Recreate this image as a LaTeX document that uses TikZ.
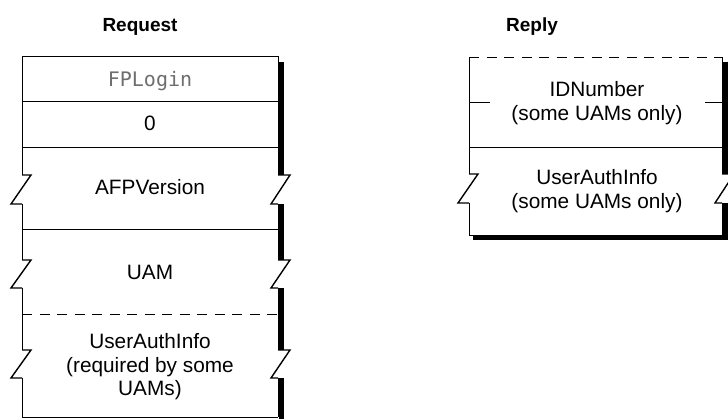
\documentclass[tikz,border=0pt]{standalone}
\usepackage{fontspec}
\setmainfont{Liberation Sans}
\newfontfamily\codefont{DejaVu Sans Mono}
\usetikzlibrary{positioning}
\definecolor{ccode}{HTML}{6E6E6E}
\tikzset{
  every picture/.style={line width=0.9pt},
  field/.style={font=\fontsize{20.8}{23.5}\selectfont, align=center, inner sep=0pt},
  codefield/.style={font=\codefont\fontsize{20}{23.5}\selectfont, text=ccode, inner sep=0pt},
  heading/.style={font=\bfseries\fontsize{19}{23}\selectfont, inner sep=0pt},
  shadow/.style={line width=5.5pt, line cap=butt, miter limit=10},
  jag/.style={line width=1.4pt, line join=miter},
  gapline/.style={dash pattern=on 10pt off 7.5pt},
}

\begin{document}
\begin{tikzpicture}[x=1pt, y=-1pt]
  \fill[white] (0,0) rectangle (728,419);
  \useasboundingbox (0,0) rectangle (728,419);

  \node[heading, anchor=base] (request) at (140,32) {Request};
  \node[heading, anchor=base] (reply) at (532,32) {Reply};

  \draw[shadow] (281.5,62) -- (281.5,175) (281.5,204) -- (281.5,260)
    (281.5,288) -- (281.5,350) (281.5,378) -- (281.5,425);
  \draw (22,56) -- (278,56);
  \draw (22,56) -- (22,175) (22,204) -- (22,260) (22,288) -- (22,350) (22,378) -- (22,417) -- (278,417);
  \draw (278,56) -- (278,175) (278,204) -- (278,260) (278,288) -- (278,350) (278,378) -- (278,417);
  \foreach \yt/\yb in {175/204, 260/288, 350/378} {
    \draw[jag] (22,\yt) -- ++(9,0) -- (11,\yb) -- (22,\yb);
    \draw[jag] (278,\yt) -- ++(12,0) -- (271,\yb) -- (278,\yb);
  }
  \foreach \y in {101, 147, 229}
    \draw (22,\y) -- (278,\y);
  \draw[gapline] (22,314) -- (278,314);

  \node[codefield, anchor=base] (fplogin) at (150,87) {FPLogin};
  \node[field, anchor=base] (zero) at (150,131) {0};
  \node[field, anchor=base] (afpversion) at (150,195) {AFPVersion};
  \node[field, anchor=base] (uam) at (150,280) {UAM};
  \node[field] (authreq) at (150,367) {UserAuthInfo\\(required by some\\UAMs)};

  \draw[shadow] (725.5,62) -- (725.5,174) (725.5,203) -- (725.5,237.5) -- (473,237.5);
  \draw[gapline] (469,57) -- (722,57);
  \draw (469,57) -- (469,174) (469,203) -- (469,235) -- (722,235) -- (722,203) (722,174) -- (722,57);
  \draw (469,102) -- (490,102) (705,102) -- (722,102);
  \draw (469,147) -- (722,147);
  \draw[jag] (469,174) -- ++(9,0) -- (458,203) -- (469,203);
  \draw[jag] (722,174) -- ++(12,0) -- (715,203) -- (722,203);

  \node[field] (idnumber) at (597,103) {IDNumber\\(some UAMs only)};
  \node[field] (authrep) at (597,191) {UserAuthInfo\\(some UAMs only)};
\end{tikzpicture}
\end{document}
